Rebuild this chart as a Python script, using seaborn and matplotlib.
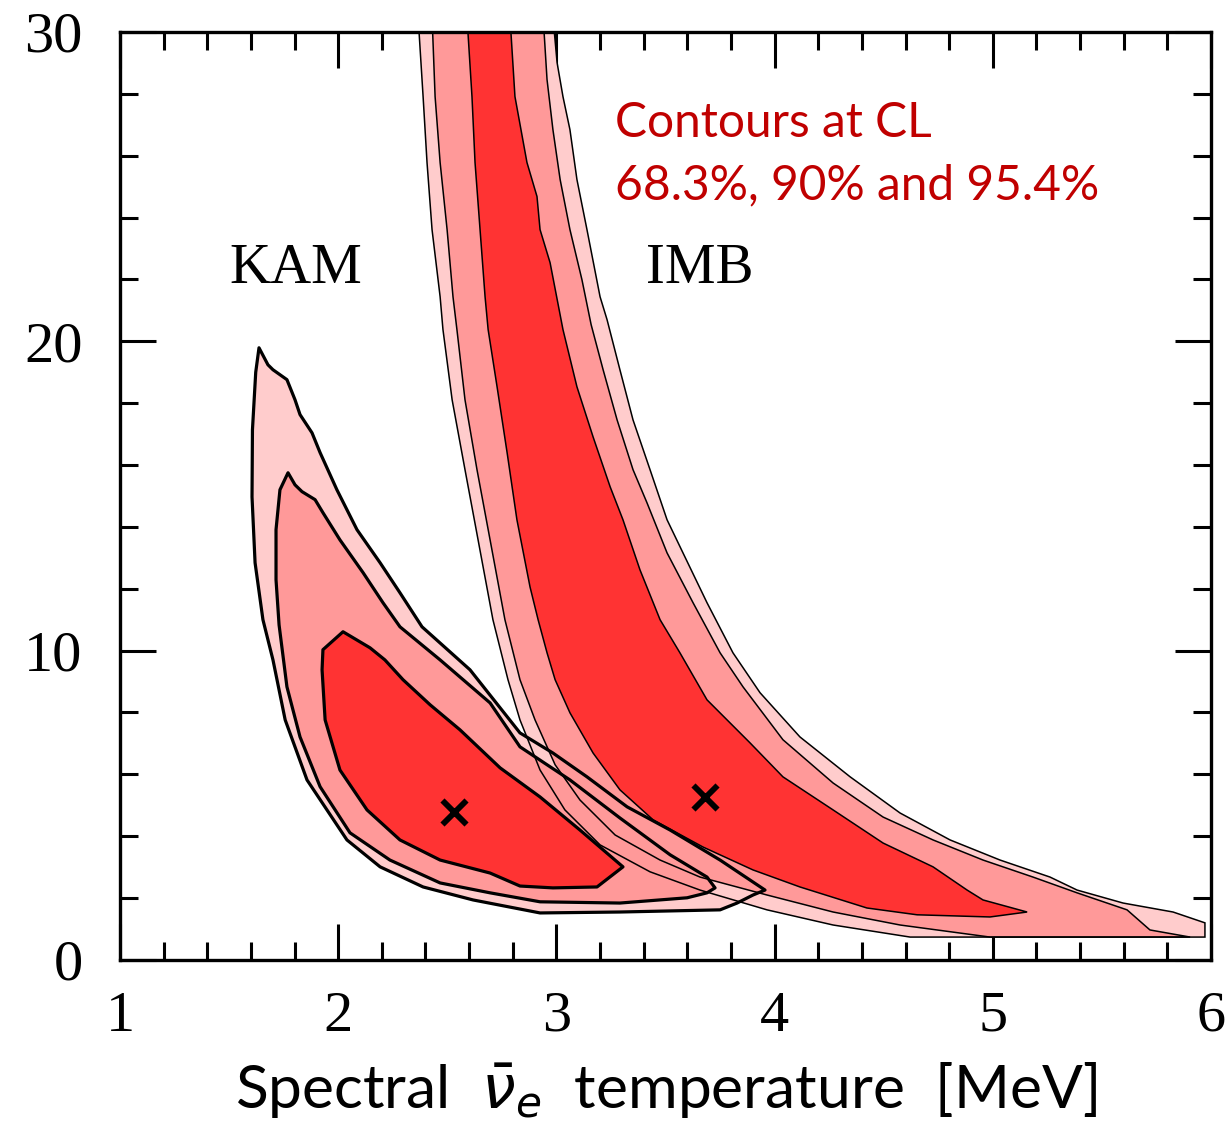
import matplotlib
matplotlib.use("Agg")
import matplotlib.pyplot as plt
from matplotlib.ticker import MultipleLocator
import seaborn as sns

# ---------------------------------------------------------------------------
# Confidence regions in the (spectral temperature [MeV], energy) plane.
# Each region is a closed outline given as x / y vertex lists.
# ---------------------------------------------------------------------------

# Kamiokande, 95.4 % CL
kam_954_x = [1.637, 1.678, 1.701, 1.765, 1.802, 1.825, 1.880, 1.917, 1.994, 2.086,
             2.192, 2.283, 2.384, 2.604, 2.833, 2.984, 3.140, 3.324, 3.521, 3.750,
             3.956, 3.901, 3.828, 3.750, 3.291, 2.925, 2.618, 2.389, 2.192, 2.040,
             1.857, 1.757, 1.701, 1.655, 1.619, 1.605, 1.607, 1.622]
kam_954_y = [19.79, 19.24, 19.08, 18.76, 18.11, 17.63, 17.04, 16.40, 15.20, 13.91,
             12.84, 11.87, 10.77, 9.38, 7.34, 6.69, 5.92, 4.95, 4.20, 3.23,
             2.26, 2.10, 1.84, 1.62, 1.55, 1.52, 1.94, 2.36, 3.01, 3.88,
             5.82, 7.76, 9.70, 11.00, 12.84, 14.97, 17.14, 19.00]

# Kamiokande, 90 % CL
kam_90_x = [1.770, 1.802, 1.834, 1.894, 1.930, 2.008, 2.114, 2.205, 2.283, 2.467,
            2.696, 2.833, 3.062, 3.291, 3.521, 3.690, 3.727, 3.690, 3.599, 3.291,
            2.925, 2.696, 2.467, 2.237, 2.054, 1.917, 1.825, 1.765, 1.729, 1.715,
            1.715, 1.733]
kam_90_y = [15.75, 15.36, 15.14, 14.88, 14.46, 13.58, 12.52, 11.55, 10.77, 9.70,
            8.31, 6.89, 5.82, 4.59, 3.40, 2.68, 2.33, 2.17, 2.01, 1.84,
            1.88, 2.17, 2.49, 3.23, 4.11, 5.60, 7.21, 8.83, 10.83, 12.29,
            13.91, 15.20]

# Kamiokande, 68.3 % CL
kam_683_x = [2.022, 2.146, 2.214, 2.297, 2.421, 2.558, 2.742, 2.925, 3.108, 3.305,
             3.186, 2.984, 2.833, 2.696, 2.467, 2.283, 2.132, 2.008, 1.940, 1.926,
             1.930]
kam_683_y = [10.61, 10.09, 9.70, 9.06, 8.25, 7.44, 6.21, 5.27, 4.20, 3.01,
             2.36, 2.33, 2.39, 2.81, 3.23, 3.88, 4.85, 6.14, 7.76, 9.38,
             10.03]

# IMB, 95.4 % CL
imb_954_x = [2.366, 2.389, 2.407, 2.430, 2.467, 2.480, 2.522, 2.581, 2.641, 2.709,
             2.778, 2.833, 2.925, 3.039, 3.200, 3.429, 3.658, 3.965, 4.268, 4.621,
             5.972, 5.972, 5.826, 5.597, 5.386, 5.262, 5.033, 4.804, 4.575, 4.346,
             4.116, 3.933, 3.809, 3.690, 3.580, 3.507, 3.429, 3.351, 3.291, 3.232,
             3.200, 3.140, 3.094, 3.062, 3.030, 3.003, 2.984]
imb_954_y = [30.5, 27.91, 25.78, 23.61, 21.44, 20.38, 18.11, 15.85, 13.58, 11.00,
             9.06, 7.76, 6.14, 4.85, 3.72, 2.85, 2.26, 1.62, 1.13, 0.74,
             0.74, 1.20, 1.55, 1.84, 2.26, 2.68, 3.23, 3.88, 4.75, 5.92,
             7.21, 8.64, 9.93, 11.55, 13.16, 14.23, 15.85, 17.46, 19.08, 20.70,
             21.44, 23.61, 25.23, 26.84, 27.91, 29.01, 30.5]

# IMB, 90 % CL
imb_90_x = [2.430, 2.444, 2.467, 2.499, 2.526, 2.544, 2.581, 2.636, 2.696, 2.764,
            2.833, 2.902, 2.994, 3.108, 3.269, 3.475, 3.658, 3.965, 4.268, 4.575,
            4.987, 5.904, 5.720, 5.615, 5.386, 5.184, 4.955, 4.726, 4.497, 4.268,
            4.038, 3.855, 3.750, 3.626, 3.507, 3.415, 3.351, 3.278, 3.214, 3.159,
            3.117, 3.062, 3.017, 2.984, 2.957, 2.939]
imb_90_y = [30.5, 27.91, 25.78, 23.61, 21.44, 20.38, 18.11, 15.85, 13.58, 11.00,
            9.06, 7.76, 6.31, 5.17, 4.04, 3.23, 2.68, 2.10, 1.55, 1.13,
            0.74, 0.74, 0.97, 1.62, 2.17, 2.68, 3.23, 3.88, 4.62, 5.72,
            7.12, 8.83, 9.93, 11.55, 13.16, 14.78, 15.85, 17.46, 19.08, 20.54,
            21.99, 23.61, 25.23, 26.84, 28.46, 30.5]

# IMB, 68.3 % CL
imb_683_x = [2.590, 2.613, 2.627, 2.650, 2.673, 2.687, 2.728, 2.774, 2.819, 2.879,
             2.916, 2.957, 2.994, 3.062, 3.168, 3.291, 3.443, 3.672, 3.901, 4.116,
             4.423, 4.653, 4.987, 5.157, 4.955, 4.882, 4.726, 4.497, 4.268, 4.038,
             3.887, 3.690, 3.566, 3.475, 3.383, 3.305, 3.246, 3.168, 3.094, 3.030,
             2.971, 2.925, 2.911, 2.865, 2.810, 2.787]
imb_683_y = [30.5, 27.91, 25.78, 23.61, 21.44, 20.38, 18.53, 16.40, 14.23, 12.06,
             11.00, 9.93, 9.06, 7.99, 6.69, 5.50, 4.53, 3.65, 2.91, 2.36,
             1.68, 1.46, 1.39, 1.55, 1.94, 2.26, 3.01, 3.78, 4.85, 5.92,
             7.02, 8.41, 9.93, 11.00, 12.61, 14.23, 15.30, 16.91, 18.53, 20.38,
             22.54, 23.61, 24.68, 25.78, 27.91, 30.5]

# Best-fit points
best_fit_t = [2.53, 3.68]
best_fit_e = [4.77, 5.27]

# Tick labels
x_ticks = [1, 2, 3, 4, 5, 6]
y_ticks = [0, 10, 20, 30]

# Text
detector_names = ["KAM", "IMB"]
detector_label_x = [1.50, 3.41]
detector_label_y = [21.9, 21.9]
cl_note = ["Contours at CL", "68.3%, 90% and 95.4%"]
x_label = r"Spectral  $\bar{\nu}_e$  temperature  [MeV]"

# ---------------------------------------------------------------------------
sns.set_theme(style="ticks")
plt.rcParams["font.family"] = ["Liberation Serif", "DejaVu Serif"]
plt.rcParams["mathtext.fontset"] = "dejavusans"
plt.rcParams["axes.edgecolor"] = "black"
plt.rcParams["axes.labelcolor"] = "black"
plt.rcParams["text.color"] = "black"
plt.rcParams["xtick.color"] = "black"
plt.rcParams["ytick.color"] = "black"

fig = plt.figure(figsize=(12.27, 11.25), dpi=100)
ax = fig.add_axes([0.0978, 0.1467, 0.8892, 0.8249])
ax.set_facecolor("white")

fill_colors = {"954": "#FFCCCC", "90": "#FF9999", "683": "#FF3333"}

kam = {"954": (kam_954_x, kam_954_y), "90": (kam_90_x, kam_90_y),
       "683": (kam_683_x, kam_683_y)}
imb = {"954": (imb_954_x, imb_954_y), "90": (imb_90_x, imb_90_y),
       "683": (imb_683_x, imb_683_y)}

# Fill from the widest to the narrowest region so the higher-confidence
# shades end up on top where the detectors overlap.
for z, level in enumerate(["954", "90", "683"]):
    for region in (kam, imb):
        xs, ys = region[level]
        ax.fill(xs, ys, color=fill_colors[level], lw=0, zorder=1 + 0.1 * z)

# Outlines
for level in ["954", "90", "683"]:
    xs, ys = imb[level]
    ax.fill(xs, ys, fill=False, edgecolor="black", lw=1.1, zorder=2)
for level in ["954", "90", "683"]:
    xs, ys = kam[level]
    ax.fill(xs, ys, fill=False, edgecolor="black", lw=2.3, zorder=2.1,
            joinstyle="round")

# Best-fit markers
sns.scatterplot(x=best_fit_t, y=best_fit_e, marker="x", s=300, color="black",
                linewidth=4.2, zorder=3, ax=ax, legend=False)

# Axes ranges and ticks
ax.set_xlim(1, 6)
ax.set_ylim(0, 30)
ax.set_xticks(x_ticks)
ax.set_yticks(y_ticks)
ax.xaxis.set_minor_locator(MultipleLocator(0.2))
ax.yaxis.set_minor_locator(MultipleLocator(2))
ax.tick_params(which="both", direction="in", top=True, right=True,
               width=2.2, labelsize=42, labelcolor="black")
ax.tick_params(which="major", length=26)
ax.tick_params(which="minor", length=13)
ax.tick_params(axis="y", which="major", pad=27)
ax.tick_params(axis="x", which="major", pad=22)
for spine in ax.spines.values():
    spine.set_linewidth(2.4)
    spine.set_color("black")
    spine.set_zorder(4)

# Detector names
for name, tx, ty in zip(detector_names, detector_label_x, detector_label_y):
    ax.text(tx, ty, name, fontsize=41, color="black", va="baseline", ha="left",
            zorder=5)

# Confidence-level note
ax.text(3.269, 26.62, cl_note[0], color="#C00000", fontsize=34.5,
        family=["Lato", "DejaVu Sans"], va="baseline", ha="left", zorder=5)
ax.text(3.269, 24.58, cl_note[1], color="#C00000", fontsize=34.5,
        family=["Lato", "DejaVu Sans"], va="baseline", ha="left", zorder=5)

# Axis label
ax.set_xlabel(x_label, fontsize=43.5, color="black", family=["Lato", "DejaVu Sans"])
ax.xaxis.label.set_va("baseline")
ax.xaxis.set_label_coords(0.5005, -0.1605)

fig.savefig("out.png", dpi=100)
